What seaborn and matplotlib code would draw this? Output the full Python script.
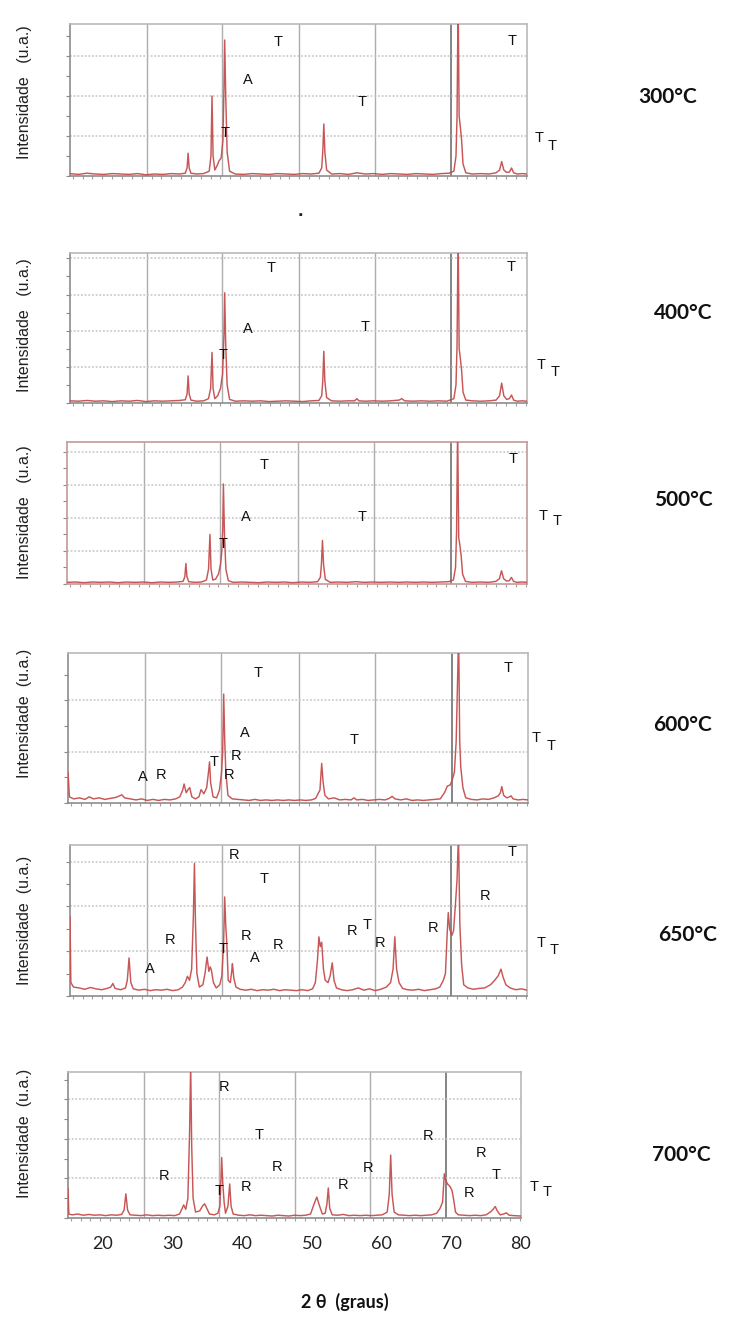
import matplotlib
matplotlib.use("Agg")
import matplotlib.pyplot as plt
from matplotlib.ticker import MultipleLocator
import seaborn as sns
import pandas as pd

# ---------------- data ----------------
temperatures = ["300°C", "400°C", "500°C", "600°C", "650°C", "700°C"]
tick_values = [20, 30, 40, 50, 60, 70, 80]
tick_labels = ["20", "30", "40", "50", "60", "70", "80"]
grid_x = [25.9, 36.6, 47.6, 58.4, 69.2]          # vertical grid lines of the original chart
y_max = [3.8, 4.15, 4.3, 2.92, 3.37, 3.69]         # intensity range of each panel (grid units)

curve_300 = [(15.0,0.06),(16.2,0.04),(17.4,0.07),(18.6,0.05),(19.8,0.04),(21.0,0.06),(22.2,0.05),(23.4,0.04),
    (24.6,0.06),(25.8,0.03),(27.0,0.05),(28.2,0.04),(29.4,0.06),(30.6,0.05),(31.4,0.07),(31.65,0.2),(31.8,0.57),
    (31.95,0.2),(32.2,0.07),(33.0,0.05),(34.0,0.06),(34.8,0.12),(35.05,0.5),(35.2,2.0),(35.35,0.5),(35.6,0.15),
    (35.9,0.25),(36.2,0.38),(36.5,0.45),(36.75,0.9),(36.9,2.2),(37.0,3.4),(37.15,2.0),(37.35,0.6),(37.7,0.12),
    (38.5,0.05),(39.7,0.04),(40.9,0.06),(42.1,0.05),(43.3,0.04),(44.5,0.06),(45.7,0.05),(46.9,0.04),(48.1,0.06),
    (49.3,0.05),(50.4,0.07),(50.8,0.2),(50.95,0.6),(51.1,1.3),(51.25,0.6),(51.5,0.15),(52.2,0.05),(53.4,0.06),
    (54.6,0.04),(55.8,0.08),(57.0,0.05),(58.2,0.06),(59.4,0.04),(60.6,0.06),(61.8,0.05),(63.0,0.04),(64.2,0.06),
    (65.4,0.05),(66.6,0.04),(67.8,0.06),(68.9,0.07),(69.6,0.12),(69.9,0.5),(70.05,1.5),(70.2,4.5),(70.35,1.5),
    (70.5,1.25),(70.7,0.9),(70.9,0.3),(71.3,0.08),(72.2,0.05),(73.4,0.06),(74.6,0.05),(75.6,0.08),(76.1,0.15),
    (76.4,0.36),(76.7,0.15),(77.1,0.09),(77.5,0.1),(77.8,0.2),(78.1,0.08),(78.6,0.05),(79.3,0.06),(80.0,0.05)]

curve_400 = [(15.0,0.06),(16.2,0.05),(17.4,0.07),(18.6,0.05),(19.8,0.06),(21.0,0.04),(22.2,0.06),(23.4,0.05),
    (24.6,0.07),(25.8,0.04),(27.0,0.06),(28.2,0.05),(29.4,0.06),(30.6,0.07),(31.4,0.09),(31.65,0.25),(31.8,0.75),
    (31.95,0.25),(32.2,0.08),(33.0,0.05),(34.0,0.06),(34.7,0.12),(35.0,0.4),(35.2,1.4),(35.35,0.4),(35.6,0.12),
    (36.0,0.2),(36.4,0.4),(36.7,0.8),(36.9,1.9),(37.0,3.05),(37.15,1.6),(37.35,0.5),(37.7,0.1),(38.5,0.05),
    (39.7,0.06),(40.9,0.05),(42.1,0.06),(43.3,0.04),(44.5,0.05),(45.7,0.06),(46.9,0.05),(48.1,0.04),(49.3,0.06),
    (50.4,0.07),(50.8,0.2),(50.95,0.6),(51.1,1.43),(51.25,0.6),(51.5,0.15),(52.2,0.06),(53.4,0.05),(54.6,0.06),
    (55.5,0.06),(55.8,0.12),(56.1,0.06),(57.0,0.05),(58.2,0.06),(59.4,0.05),(60.6,0.06),(61.8,0.08),(62.2,0.12),
    (62.6,0.06),(63.8,0.05),(65.0,0.06),(66.2,0.05),(67.4,0.06),(68.6,0.05),(69.6,0.12),(69.9,0.5),(70.05,1.6),
    (70.2,4.8),(70.35,1.5),(70.5,1.27),(70.7,0.9),(70.9,0.3),(71.3,0.08),(72.2,0.06),(73.4,0.05),(74.6,0.06),
    (75.6,0.08),(76.1,0.2),(76.4,0.55),(76.7,0.2),(77.1,0.1),(77.5,0.12),(77.8,0.22),(78.1,0.08),(78.6,0.05),
    (79.3,0.06),(80.0,0.05)]

curve_500 = [(15.0,0.05),(16.2,0.06),(17.4,0.04),(18.6,0.06),(19.8,0.05),(21.0,0.06),(22.2,0.04),(23.4,0.06),
    (24.6,0.05),(25.8,0.06),(27.0,0.04),(28.2,0.06),(29.4,0.05),(30.6,0.06),(31.4,0.08),(31.65,0.22),(31.8,0.62),
    (31.95,0.22),(32.2,0.07),(33.0,0.05),(34.0,0.06),(34.7,0.12),(35.0,0.45),(35.2,1.5),(35.35,0.45),(35.6,0.12),
    (36.0,0.15),(36.4,0.3),(36.7,0.6),(36.85,0.93),(37.0,1.6),(37.1,3.03),(37.25,1.5),(37.45,0.45),(37.8,0.1),
    (38.5,0.05),(39.7,0.06),(40.9,0.05),(42.1,0.04),(43.3,0.06),(44.5,0.05),(45.7,0.06),(46.9,0.04),(48.1,0.06),
    (49.3,0.05),(50.4,0.07),(50.8,0.2),(50.95,0.6),(51.1,1.32),(51.25,0.6),(51.5,0.14),(52.2,0.05),(53.4,0.06),
    (54.6,0.05),(55.8,0.07),(57.0,0.05),(58.2,0.06),(59.4,0.05),(60.6,0.06),(61.8,0.05),(63.0,0.06),(64.2,0.05),
    (65.4,0.06),(66.6,0.05),(67.8,0.06),(68.9,0.07),(69.6,0.12),(69.9,0.5),(70.05,1.6),(70.2,4.8),(70.35,1.4),
    (70.5,1.2),(70.7,0.85),(70.9,0.3),(71.3,0.08),(72.2,0.05),(73.4,0.06),(74.6,0.05),(75.6,0.08),(76.1,0.16),
    (76.4,0.4),(76.7,0.16),(77.1,0.09),(77.5,0.1),(77.8,0.2),(78.1,0.08),(78.6,0.05),(79.3,0.06),(80.0,0.05)]

curve_600 = [(15.0,0.6),(15.2,0.12),(15.8,0.08),(16.6,0.1),(17.4,0.07),(18.0,0.12),(18.6,0.08),(19.4,0.1),
    (20.2,0.07),(21.0,0.09),(21.8,0.11),(22.3,0.14),(22.6,0.16),(23.0,0.1),(23.8,0.08),(24.6,0.06),(25.4,0.08),
    (26.2,0.05),(27.0,0.07),(27.8,0.05),(28.6,0.07),(29.4,0.06),(30.2,0.08),(30.8,0.12),(31.2,0.25),(31.4,0.37),
    (31.7,0.2),(32.0,0.27),(32.2,0.3),(32.5,0.12),(33.0,0.08),(33.5,0.12),(33.8,0.26),(34.2,0.18),(34.6,0.3),
    (34.85,0.6),(35.0,0.8),(35.15,0.4),(35.5,0.12),(36.0,0.1),(36.4,0.25),(36.7,0.6),(36.85,0.97),(37.0,2.12),
    (37.15,1.2),(37.3,0.6),(37.6,0.15),(38.2,0.08),(39.0,0.07),(39.8,0.06),(40.6,0.05),(41.4,0.07),(42.2,0.05),
    (43.0,0.06),(43.8,0.05),(44.6,0.06),(45.4,0.05),(46.2,0.06),(47.0,0.05),(47.8,0.06),(48.6,0.05),(49.4,0.06),
    (50.0,0.09),(50.4,0.2),(50.6,0.25),(50.85,0.77),(51.05,0.4),(51.3,0.15),(51.8,0.08),(52.6,0.1),(53.4,0.06),
    (54.2,0.07),(55.0,0.06),(55.4,0.1),(55.8,0.06),(56.6,0.07),(57.4,0.05),(58.2,0.06),(59.0,0.07),(59.8,0.06),
    (60.4,0.09),(60.8,0.13),(61.2,0.08),(62.0,0.06),(62.8,0.08),(63.6,0.05),(64.4,0.06),(65.2,0.05),(66.0,0.06),
    (66.8,0.07),(67.6,0.08),(68.2,0.2),(68.6,0.33),(69.0,0.35),(69.3,0.45),(69.6,0.6),(69.85,1.2),(70.05,2.4),
    (70.2,3.3),(70.35,1.2),(70.5,0.7),(70.8,0.3),(71.2,0.1),(72.0,0.07),(72.8,0.06),(73.6,0.08),(74.4,0.07),
    (75.2,0.1),(75.8,0.14),(76.1,0.2),(76.3,0.32),(76.55,0.15),(77.0,0.1),(77.4,0.12),(77.6,0.14),(77.9,0.08),
    (78.6,0.06),(79.3,0.07),(80.0,0.06)]

curve_650 = [(15.0,1.77),(15.12,0.3),(15.5,0.2),(16.3,0.18),(17.1,0.15),(17.9,0.19),(18.7,0.16),(19.5,0.14),
    (20.3,0.17),(20.8,0.2),(21.1,0.28),(21.4,0.17),(22.2,0.14),(22.9,0.18),(23.15,0.35),(23.4,0.85),(23.65,0.3),
    (24.0,0.16),(24.8,0.13),(25.6,0.15),(26.4,0.12),(27.2,0.14),(28.0,0.13),(28.8,0.15),(29.6,0.12),(30.4,0.14),
    (31.0,0.2),(31.4,0.3),(31.7,0.44),(32.0,0.35),(32.3,0.6),(32.55,1.8),(32.7,2.96),(32.85,1.6),(33.05,0.5),
    (33.4,0.2),(33.9,0.25),(34.2,0.5),(34.5,0.87),(34.75,0.55),(34.95,0.65),(35.1,0.58),(35.4,0.3),(35.8,0.18),
    (36.3,0.25),(36.6,0.45),(36.85,1.2),(37.0,2.21),(37.15,1.58),(37.3,1.2),(37.5,0.35),(37.8,0.3),(38.0,0.55),
    (38.1,0.72),(38.3,0.4),(38.6,0.2),(39.2,0.15),(40.0,0.13),(40.8,0.15),(41.6,0.12),(42.4,0.14),(43.2,0.13),
    (44.0,0.15),(44.8,0.12),(45.6,0.14),(46.4,0.13),(47.2,0.12),(48.0,0.14),(48.8,0.12),(49.5,0.16),(49.9,0.3),
    (50.2,0.8),(50.4,1.32),(50.6,1.1),(50.8,1.2),(51.05,0.6),(51.3,0.35),(51.7,0.3),(52.0,0.45),(52.3,0.74),
    (52.55,0.35),(52.9,0.18),(53.6,0.14),(54.4,0.12),(55.2,0.14),(56.0,0.18),(56.8,0.13),(57.6,0.16),(58.4,0.12),
    (59.2,0.15),(60.0,0.2),(60.6,0.3),(60.95,0.6),(61.2,1.32),(61.45,0.6),(61.8,0.3),(62.3,0.17),(63.0,0.14),
    (63.8,0.13),(64.6,0.15),(65.4,0.12),(66.2,0.14),(67.0,0.16),(67.6,0.2),(68.1,0.35),(68.4,0.5),(68.65,1.4),
    (68.8,1.86),(69.0,1.5),(69.3,1.35),(69.55,1.45),(69.8,2.0),(70.05,2.6),(70.25,3.6),(70.45,1.6),(70.7,0.7),
    (71.0,0.25),(71.6,0.18),(72.4,0.15),(73.2,0.17),(74.0,0.18),(74.8,0.25),(75.4,0.35),(75.9,0.45),(76.3,0.6),
    (76.6,0.42),(77.0,0.25),(77.6,0.18),(78.4,0.14),(79.2,0.16),(80.0,0.13)]

curve_700 = [(15.0,0.75),(15.12,0.1),(15.6,0.08),(16.4,0.1),(17.2,0.07),(18.0,0.09),(18.8,0.07),(19.6,0.08),
    (20.4,0.06),(21.2,0.08),(22.0,0.07),(22.7,0.09),(23.05,0.2),(23.3,0.61),(23.55,0.2),(23.9,0.08),(24.7,0.07),
    (25.5,0.06),(26.3,0.08),(27.1,0.06),(27.9,0.07),(28.7,0.06),(29.5,0.07),(30.3,0.06),(31.0,0.1),(31.4,0.25),
    (31.6,0.33),(31.9,0.22),(32.2,0.5),(32.45,2.2),(32.6,3.9),(32.75,1.8),(32.95,0.5),(33.3,0.15),(33.9,0.18),
    (34.3,0.3),(34.6,0.36),(34.9,0.25),(35.3,0.1),(36.0,0.08),(36.5,0.12),(36.8,0.3),(36.95,1.0),(37.05,1.53),
    (37.2,0.9),(37.4,0.4),(37.6,0.12),(37.95,0.3),(38.2,0.86),(38.4,0.3),(38.7,0.1),(39.5,0.07),(40.3,0.06),
    (41.1,0.08),(41.9,0.06),(42.7,0.07),(43.5,0.06),(44.3,0.05),(45.1,0.07),(45.9,0.06),(46.7,0.05),(47.5,0.07),
    (48.3,0.06),(49.1,0.07),(49.8,0.1),(50.3,0.35),(50.7,0.53),(51.1,0.3),(51.5,0.1),(51.9,0.12),(52.15,0.35),
    (52.35,0.76),(52.55,0.25),(52.9,0.08),(53.7,0.07),(54.5,0.09),(55.3,0.06),(56.1,0.07),(56.9,0.06),(57.7,0.07),
    (58.5,0.06),(59.3,0.07),(60.1,0.08),(60.8,0.15),(61.1,0.6),(61.3,1.59),(61.5,0.6),(61.8,0.15),(62.4,0.08),
    (63.2,0.07),(64.0,0.06),(64.8,0.07),(65.6,0.06),(66.4,0.07),(67.2,0.08),(67.9,0.12),(68.4,0.25),(68.75,0.4),
    (69.0,1.12),(69.2,0.95),(69.5,0.85),(69.8,0.8),(70.1,0.7),(70.35,0.45),(70.6,0.15),(71.0,0.08),(71.8,0.07),
    (72.6,0.06),(73.4,0.07),(74.2,0.06),(75.0,0.08),(75.6,0.15),(76.0,0.22),(76.3,0.29),(76.6,0.18),(77.0,0.08),
    (77.5,0.1),(77.9,0.13),(78.3,0.07),(79.0,0.06),(80.0,0.05)]

# phase labels (T, A, R) placed at (2theta, intensity)
labels_300 = [("T",44.6,3.36),("A",40.3,2.4),("T",56.6,1.86),("T",37.1,1.07),("T",77.9,3.38),("T",81.7,0.94),("T",83.6,0.76)]
labels_400 = [("T",43.6,3.73),("A",40.3,2.04),("T",57.0,2.11),("T",36.8,1.33),("T",77.8,3.76),("T",82.0,1.05),("T",84.0,0.87)]
labels_500 = [("T",42.8,3.6),("A",40.3,2.02),("T",37.1,1.21),("T",56.7,2.03),("T",78.0,3.79),("T",82.3,2.06),("T",84.2,1.91)]
labels_600 = [("T",41.8,2.53),("T",77.2,2.63),("A",40.0,1.36),("T",55.5,1.23),("T",81.2,1.27),("T",83.3,1.11),
              ("T",35.7,0.8),("R",38.7,0.92),("R",37.7,0.55),("A",25.6,0.51),("R",28.2,0.55)]
labels_650 = [("R",38.4,3.15),("T",42.6,2.61),("T",77.9,3.22),("R",74.1,2.24),("R",29.2,1.25),("R",40.0,1.34),
              ("A",41.3,0.84),("R",44.6,1.14),("T",36.8,1.06),("A",26.4,0.6),("R",55.1,1.44),("T",57.2,1.58),
              ("R",59.1,1.18),("R",66.6,1.52),("T",82.0,1.19),("T",83.8,1.03)]
labels_700 = [("R",37.4,3.3),("T",42.4,2.1),("R",45.0,1.28),("R",28.8,1.06),("T",36.7,0.67),("R",40.5,0.79),
              ("R",54.5,0.83),("R",58.0,1.26),("R",66.7,2.07),("R",74.3,1.64),("T",76.4,1.09),("R",72.5,0.64),
              ("T",81.9,0.79),("T",83.7,0.66)]

curves = [curve_300, curve_400, curve_500, curve_600, curve_650, curve_700]
phase_labels = [labels_300, labels_400, labels_500, labels_600, labels_650, labels_700]

# ---------------- layout (pixels) ----------------
W, H = 729, 1320
panel_px = [(70, 527, 24, 176), (70, 527, 253, 403), (67, 527, 442, 584),
            (68, 528, 653, 803), (70, 527, 845, 996), (68, 521, 1072, 1218)]
temp_px = [(668, 97), (683, 313), (683, 500), (683, 725), (688, 935), (681, 1155)]
ylabel_y = [92, 325, 512, 713, 920, 1133]
ylabel_txt = ["Intensidade   (u.a.)"] * 3 + ["Intensidade  (u.a.)"] * 3

LINE = "#c44e4e"
sns.set_style("white")
plt.rcParams["font.family"] = ["Liberation Sans", "DejaVu Sans"]

fig = plt.figure(figsize=(W / 100, H / 100), dpi=100)

for i in range(6):
    l, r, t, b = panel_px[i]
    ax = fig.add_axes([l / W, 1 - b / H, (r - l) / W, (b - t) / H])
    df = pd.DataFrame(curves[i], columns=["two_theta", "intensity"])
    sns.lineplot(data=df, x="two_theta", y="intensity", ax=ax, color=LINE, lw=1.05, alpha=0.95,
                 sort=False, estimator=None, zorder=3)
    ax.set_xlim(15, 80)
    ax.set_ylim(0, y_max[i])
    for gx in grid_x:
        dark = gx > 65
        ax.axvline(gx, color="#858585" if dark else "#adadad", lw=1.4 if dark else 1.0, zorder=1)
    k = 1
    while k < y_max[i]:
        ax.axhline(k, color="#c4c4c4", lw=1.1, ls=(0, (1.2, 1.2)), zorder=1)
        k += 1
    ax.set_xlabel("")
    ax.set_ylabel("")
    ax.set_yticks([])
    ax.yaxis.set_minor_locator(MultipleLocator(0.5))
    ax.xaxis.set_minor_locator(MultipleLocator(1.4))
    ax.tick_params(axis="y", which="minor", left=True, length=3, width=0.8, color="#8a8a8a", direction="out")
    ax.tick_params(axis="x", which="minor", bottom=True, length=2.5, width=0.8, color="#a0a0a0", direction="out")
    if i == 5:
        ax.set_xticks(tick_values)
        ax.set_xticklabels(tick_labels, family=["Lato", "DejaVu Sans"], fontsize=13, color="#222222")
        ax.tick_params(axis="x", which="major", length=0, pad=13)
    else:
        ax.set_xticks([])
    edge = "#c39a9a" if i == 2 else "#b9b9b9"
    for side in ["top", "right"]:
        ax.spines[side].set_color(edge)
        ax.spines[side].set_linewidth(1.2)
    for side in ["left", "bottom"]:
        ax.spines[side].set_color("#c39a9a" if i == 2 else "#8c8c8c")
        ax.spines[side].set_linewidth(1.2)
    for lab, x, y in phase_labels[i]:
        ax.text(x, y, lab, ha="center", va="center", fontsize=10.5, color="#111111", clip_on=False, zorder=5)
    fig.text(temp_px[i][0] / W, 1 - temp_px[i][1] / H, temperatures[i], ha="center", va="center",
             fontsize=15, fontweight="bold", family=["Lato", "DejaVu Sans"], color="#111111")
    fig.text(25 / W, 1 - ylabel_y[i] / H, ylabel_txt[i], rotation=90, ha="center", va="center",
             fontsize=11.5, color="#222222")

fig.text(300 / W, 1 - 212 / H, ".", ha="center", va="center", fontsize=14, fontweight="bold")
fig.text(345 / W, 1 - 1302 / H, "2 θ  (graus)", ha="center", va="center", fontsize=13,
         fontweight="bold", family=["Lato", "DejaVu Sans"], color="#111111")

fig.savefig("out.png", dpi=100)
